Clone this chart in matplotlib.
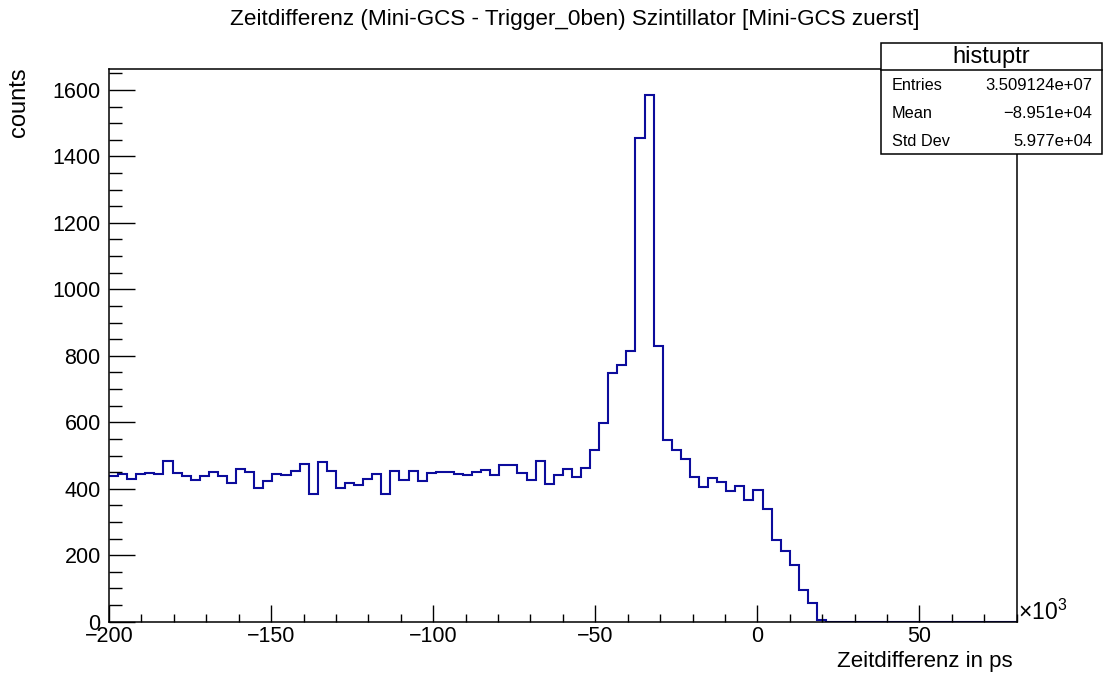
import matplotlib
matplotlib.use('Agg')
import matplotlib.pyplot as plt
from matplotlib.patches import Rectangle
from matplotlib.ticker import MultipleLocator
import numpy as np

# Histogramm-Daten (Zeitdifferenz in 10^3 ps, 100 Bins von -200 bis 80)
x_min = -200
x_max = 80
n_bins = 100
counts = [437, 445, 428, 444, 447, 444, 485, 447, 437, 427,
          439, 449, 439, 416, 458, 450, 402, 423, 445, 440,
          452, 474, 384, 480, 452, 403, 416, 411, 430, 444,
          383, 454, 427, 452, 422, 446, 449, 450, 443, 440,
          450, 455, 441, 471, 472, 447, 426, 485, 414, 440,
          458, 436, 463, 517, 599, 747, 772, 816, 1454, 1586,
          831, 547, 518, 490, 435, 405, 431, 420, 393, 409,
          365, 397, 338, 246, 212, 172, 94, 56, 4, 0,
          0, 0, 0, 0, 0, 0, 0, 0, 0, 0,
          0, 0, 0, 0, 0, 0, 0, 0, 0, 0]
x_ticks = [-200, -150, -100, -50, 0, 50]
y_ticks = [0, 200, 400, 600, 800, 1000, 1200, 1400, 1600]

stat_names = ['Entries', 'Mean', 'Std Dev']
stat_values = ['3.509124e+07', '\u22128.951e+04', '5.977e+04']

plt.rcParams['font.family'] = ['Liberation Sans', 'DejaVu Sans']
plt.rcParams['mathtext.fontset'] = 'custom'
plt.rcParams['mathtext.rm'] = 'Liberation Sans'

W, H = 1108, 674
fig = plt.figure(figsize=(W / 100, H / 100), dpi=100)
ax = fig.add_axes([109 / W, 1 - 621.7 / H, (1016.7 - 109) / W, (621.7 - 69) / H])

edges = np.linspace(x_min, x_max, n_bins + 1)
ax.stairs(counts, edges, color='#0c0c9c', linewidth=1.5, baseline=None)

ax.set_xlim(x_min, x_max)
ax.set_ylim(0, 1663)
ax.set_xticks(x_ticks)
ax.set_xticklabels([str(t).replace('-', '\u2212') for t in x_ticks])
ax.set_yticks(y_ticks)
ax.xaxis.set_minor_locator(MultipleLocator(10))
ax.yaxis.set_minor_locator(MultipleLocator(50))
ax.tick_params(axis='x', which='major', direction='in', length=12, width=1, labelsize=15.5, pad=3)
ax.tick_params(axis='x', which='minor', direction='in', length=6, width=1)
ax.tick_params(axis='y', which='major', direction='in', length=19, width=1, labelsize=15.5, pad=6)
ax.tick_params(axis='y', which='minor', direction='in', length=9.5, width=1)
for s in ax.spines.values():
    s.set_linewidth(1.1)

# Titel und Achsenbeschriftungen
fig.text(575 / W, 1 - 20 / H, 'Zeitdifferenz (Mini-GCS - Trigger_0ben) Szintillator [Mini-GCS zuerst]',
         ha='center', va='center', fontsize=16.2)
fig.text(1013 / W, 1 - 667 / H, 'Zeitdifferenz in ps', ha='right', va='baseline', fontsize=16)
fig.text(19 / W, 1 - 67 / H, 'counts', rotation=90, ha='center', va='top', fontsize=17)
fig.text(1018 / W, 1 - 612 / H, r'$\times10^{3}$', ha='left', va='center', fontsize=16.5)

# Statistik-Box
bx0, bx1, by0, by1, bsep = 880.7, 1102, 43.3, 154, 70
fig.patches.append(Rectangle((bx0 / W, 1 - by1 / H), (bx1 - bx0) / W, (by1 - by0) / H,
                             transform=fig.transFigure, facecolor='white', edgecolor='black',
                             linewidth=1.1, zorder=5))
fig.add_artist(plt.Line2D([bx0 / W, bx1 / W], [1 - bsep / H, 1 - bsep / H],
                          transform=fig.transFigure, color='black', linewidth=1.1, zorder=6))
fig.text((bx0 + bx1) / 2 / W, 1 - 57 / H, 'histuptr', ha='center', va='center', fontsize=17, zorder=7)
for i, (name, val) in enumerate(zip(stat_names, stat_values)):
    yy = 1 - (85 + i * 28.3) / H
    fig.text(891.7 / W, yy, name, ha='left', va='center', fontsize=11.7, zorder=7)
    fig.text(1092.3 / W, yy, val, ha='right', va='center', fontsize=12, zorder=7)

fig.savefig('out.png', dpi=100)
